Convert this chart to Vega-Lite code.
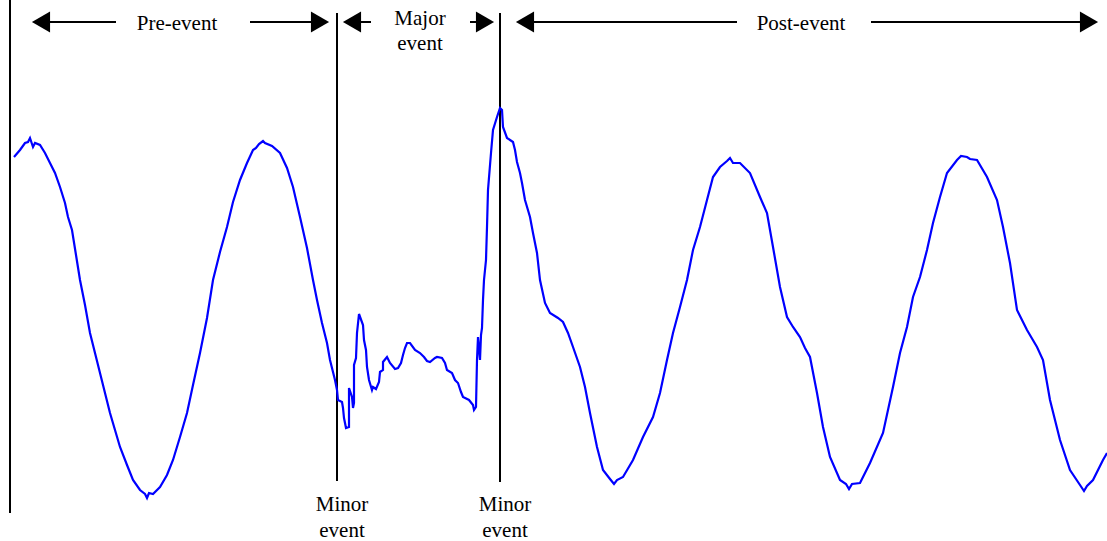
{
  "$schema": "https://vega.github.io/schema/vega-lite/v6.json",
  "width": 1107,
  "height": 541,
  "autosize": {"type": "none"},
  "padding": 0,
  "background": "white",
  "config": {"view": {"stroke": null}},
  "datasets": {
    "signal": [
      {"t":14,"y":157},{"t":20,"y":150},{"t":25,"y":143},{"t":28,"y":142},{"t":30,"y":138},{"t":33,"y":147},{"t":35,"y":143},{"t":40,"y":145},{"t":45,"y":153},{"t":50,"y":163},{"t":55,"y":173},{"t":60,"y":187},{"t":65,"y":203},{"t":68,"y":217},{"t":72,"y":230},{"t":76,"y":255},{"t":80,"y":280},{"t":85,"y":305},{"t":90,"y":333},{"t":95,"y":353},{"t":100,"y":373},{"t":105,"y":393},{"t":110,"y":413},{"t":115,"y":430},{"t":120,"y":447},{"t":127,"y":465},{"t":133,"y":480},{"t":140,"y":490},{"t":145,"y":494},{"t":147,"y":498},{"t":149,"y":493},{"t":153,"y":494},{"t":160,"y":487},{"t":167,"y":475},{"t":173,"y":460},{"t":180,"y":437},{"t":187,"y":413},{"t":193,"y":385},{"t":200,"y":353},{"t":207,"y":318},{"t":213,"y":280},{"t":220,"y":252},{"t":227,"y":227},{"t":233,"y":202},{"t":240,"y":180},{"t":247,"y":163},{"t":253,"y":150},{"t":256,"y":148},{"t":259,"y":144},{"t":263,"y":141},{"t":265,"y":143},{"t":272,"y":146},{"t":280,"y":153},{"t":287,"y":168},{"t":293,"y":187},{"t":300,"y":217},{"t":307,"y":248},{"t":313,"y":280},{"t":317,"y":300},{"t":322,"y":323},{"t":327,"y":343},{"t":330,"y":360},{"t":335,"y":380},{"t":337,"y":390},{"t":338,"y":400},{"t":342,"y":402},{"t":343,"y":408},{"t":344,"y":418},{"t":346,"y":428},{"t":349,"y":427},{"t":349,"y":388},{"t":352,"y":397},{"t":353,"y":408},{"t":354,"y":403},{"t":354,"y":365},{"t":356,"y":358},{"t":357,"y":333},{"t":359,"y":314},{"t":363,"y":325},{"t":364,"y":340},{"t":366,"y":350},{"t":367,"y":367},{"t":369,"y":380},{"t":372,"y":390},{"t":373,"y":387},{"t":376,"y":389},{"t":379,"y":382},{"t":380,"y":372},{"t":383,"y":370},{"t":383,"y":362},{"t":387,"y":357},{"t":390,"y":363},{"t":395,"y":369},{"t":398,"y":368},{"t":401,"y":363},{"t":403,"y":355},{"t":405,"y":348},{"t":407,"y":343},{"t":410,"y":343},{"t":415,"y":350},{"t":420,"y":353},{"t":424,"y":357},{"t":427,"y":361},{"t":430,"y":362},{"t":435,"y":358},{"t":437,"y":357},{"t":442,"y":358},{"t":445,"y":363},{"t":447,"y":370},{"t":452,"y":373},{"t":455,"y":380},{"t":458,"y":383},{"t":461,"y":392},{"t":463,"y":397},{"t":469,"y":400},{"t":473,"y":405},{"t":474,"y":410},{"t":476,"y":407},{"t":477,"y":360},{"t":478,"y":337},{"t":480,"y":360},{"t":481,"y":335},{"t":482,"y":328},{"t":483,"y":300},{"t":484,"y":280},{"t":486,"y":260},{"t":487,"y":227},{"t":488,"y":190},{"t":491,"y":153},{"t":493,"y":130},{"t":497,"y":117},{"t":500,"y":108},{"t":502,"y":110},{"t":503,"y":127},{"t":507,"y":138},{"t":513,"y":142},{"t":515,"y":150},{"t":517,"y":162},{"t":520,"y":173},{"t":522,"y":183},{"t":525,"y":200},{"t":530,"y":217},{"t":533,"y":233},{"t":537,"y":253},{"t":540,"y":280},{"t":545,"y":303},{"t":550,"y":313},{"t":558,"y":318},{"t":563,"y":322},{"t":568,"y":333},{"t":573,"y":347},{"t":580,"y":367},{"t":585,"y":387},{"t":590,"y":413},{"t":597,"y":447},{"t":603,"y":470},{"t":610,"y":479},{"t":614,"y":484},{"t":617,"y":480},{"t":623,"y":477},{"t":633,"y":460},{"t":643,"y":437},{"t":653,"y":417},{"t":660,"y":393},{"t":667,"y":360},{"t":673,"y":333},{"t":680,"y":307},{"t":687,"y":280},{"t":693,"y":250},{"t":700,"y":227},{"t":707,"y":200},{"t":713,"y":177},{"t":720,"y":167},{"t":727,"y":161},{"t":730,"y":158},{"t":733,"y":163},{"t":740,"y":163},{"t":750,"y":173},{"t":760,"y":197},{"t":767,"y":213},{"t":773,"y":247},{"t":780,"y":287},{"t":787,"y":317},{"t":793,"y":327},{"t":800,"y":337},{"t":805,"y":348},{"t":810,"y":357},{"t":817,"y":393},{"t":823,"y":427},{"t":830,"y":457},{"t":840,"y":480},{"t":846,"y":484},{"t":849,"y":489},{"t":852,"y":484},{"t":860,"y":483},{"t":870,"y":463},{"t":883,"y":433},{"t":893,"y":387},{"t":900,"y":353},{"t":907,"y":327},{"t":913,"y":297},{"t":920,"y":277},{"t":927,"y":250},{"t":933,"y":223},{"t":940,"y":197},{"t":947,"y":173},{"t":957,"y":160},{"t":961,"y":156},{"t":967,"y":157},{"t":970,"y":159},{"t":977,"y":160},{"t":987,"y":177},{"t":997,"y":200},{"t":1003,"y":227},{"t":1010,"y":263},{"t":1017,"y":310},{"t":1027,"y":330},{"t":1037,"y":347},{"t":1043,"y":360},{"t":1050,"y":400},{"t":1060,"y":440},{"t":1070,"y":470},{"t":1080,"y":485},{"t":1084,"y":491},{"t":1087,"y":486},{"t":1093,"y":480},{"t":1103,"y":460},{"t":1107,"y":453}
    ],
    "markers": [
      {"t":10,"top":0,"bottom":513},
      {"t":337,"top":13,"bottom":481},
      {"t":500,"top":13,"bottom":482}
    ],
    "shafts": [
      {"from":45,"to":116,"y":22},
      {"from":250,"to":315,"y":22},
      {"from":357,"to":371,"y":22},
      {"from":470,"to":482,"y":22},
      {"from":530,"to":737,"y":22},
      {"from":871,"to":1082,"y":22}
    ],
    "heads": [
      {"t":41,"y":22,"dir":"triangle-left"},
      {"t":320,"y":22,"dir":"triangle-right"},
      {"t":352,"y":22,"dir":"triangle-left"},
      {"t":485,"y":22,"dir":"triangle-right"},
      {"t":525,"y":22,"dir":"triangle-left"},
      {"t":1089,"y":22,"dir":"triangle-right"}
    ],
    "labels": [
      {"t":177,"y":22,"text":"Pre-event"},
      {"t":420,"y":17,"text":"Major"},
      {"t":420,"y":42,"text":"event"},
      {"t":801,"y":22,"text":"Post-event"},
      {"t":342,"y":503,"text":"Minor"},
      {"t":342,"y":529,"text":"event"},
      {"t":505,"y":503,"text":"Minor"},
      {"t":505,"y":529,"text":"event"}
    ]
  },
  "layer": [
    {
      "data": {"name": "markers"},
      "mark": {"type": "rule", "color": "black", "strokeWidth": 2},
      "encoding": {
        "x": {"field": "t", "type": "quantitative", "scale": {"domain": [0, 1107], "nice": false, "zero": false}, "axis": null},
        "y": {"field": "top", "type": "quantitative", "scale": {"domain": [0, 541], "nice": false, "zero": false, "reverse": true}, "axis": null},
        "y2": {"field": "bottom"}
      }
    },
    {
      "data": {"name": "shafts"},
      "mark": {"type": "rule", "color": "black", "strokeWidth": 2},
      "encoding": {
        "x": {"field": "from", "type": "quantitative"},
        "x2": {"field": "to"},
        "y": {"field": "y", "type": "quantitative"}
      }
    },
    {
      "data": {"name": "heads"},
      "mark": {"type": "point", "filled": true, "color": "black", "opacity": 1, "size": 440},
      "encoding": {
        "x": {"field": "t", "type": "quantitative"},
        "y": {"field": "y", "type": "quantitative"},
        "shape": {"field": "dir", "type": "nominal", "scale": null}
      }
    },
    {
      "data": {"name": "labels"},
      "mark": {"type": "text", "font": "Liberation Serif", "fontSize": 21, "color": "black", "baseline": "middle", "align": "center", "dy": 2},
      "encoding": {
        "x": {"field": "t", "type": "quantitative"},
        "y": {"field": "y", "type": "quantitative"},
        "text": {"field": "text"}
      }
    },
    {
      "data": {"name": "signal"},
      "mark": {"type": "line", "color": "#0000ff", "strokeWidth": 2.2, "interpolate": "linear"},
      "encoding": {
        "x": {"field": "t", "type": "quantitative"},
        "y": {"field": "y", "type": "quantitative"},
        "order": {"value": 0}
      }
    }
  ]
}
